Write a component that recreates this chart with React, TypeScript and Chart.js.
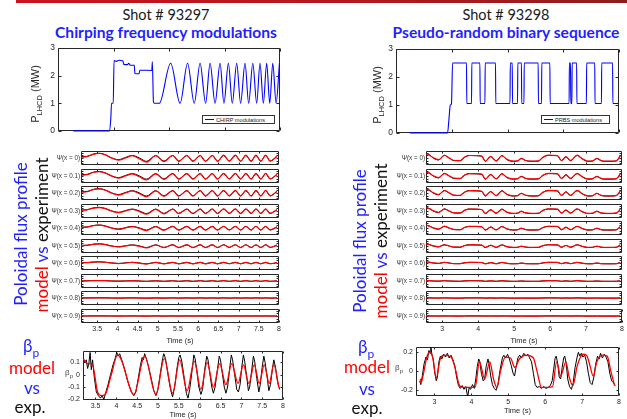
import React, { useEffect, useRef } from "react";
import { Chart, registerables } from "chart.js";

Chart.register(...registerables);

type Pt = [number, number];

// ================= DATA =================
const powerTicks = [0, 1, 2, 3];
const powerTimeTicks = [0, 2, 4, 6, 8];

// LHCD power, shot 93297 (chirp) : [time s, MW]
const chirpPower: Pt[] = [
  [0.55, 0], [1.85, 0], [1.9, 0.4], [1.93, 1.0], [1.99, 1.0], [2.02, 2.55], [2.1, 2.52], [2.2, 2.56],
  [2.34, 2.53], [2.37, 2.41], [2.5, 2.4], [2.55, 2.45], [2.6, 2.38], [2.75, 2.38], [2.77, 2.08],
  [2.92, 2.07], [2.95, 2.2], [3.38, 2.19], [3.4, 2.5], [3.44, 1.05], [3.47, 1.0], [3.65, 1.0],
  [4.06, 2.45], [4.4, 1.0], [4.67, 2.45], [4.91, 1.0], [5.12, 2.45], [5.32, 1.0], [5.48, 2.45],
  [5.66, 1.0], [5.84, 2.45], [5.98, 1.0], [6.14, 2.45], [6.28, 1.0], [6.44, 2.45], [6.58, 1.0],
  [6.74, 2.45], [6.87, 1.0], [7.02, 2.45], [7.16, 1.0], [7.28, 2.45], [7.4, 1.0], [7.52, 2.45],
  [7.63, 1.0], [7.74, 2.45], [7.86, 1.0], [7.98, 2.45],
];

// LHCD power, shot 93298 (PRBS) : [time s, MW]
const prbsPower: Pt[] = [
  [0.5, 0], [1.85, 0], [1.9, 0.5], [1.95, 1.0], [1.99, 1.05], [2.03, 2.5], [2.53, 2.5], [2.54, 1.05],
  [2.71, 1.05], [2.72, 2.5], [3.01, 2.5], [3.02, 1.05], [3.19, 1.05], [3.2, 2.5], [3.57, 2.5],
  [3.58, 1.05], [4.09, 1.05], [4.1, 2.5], [4.17, 2.5], [4.18, 1.05], [4.36, 1.05], [4.37, 2.5],
  [4.5, 2.5], [4.51, 1.05], [4.59, 1.05], [4.6, 2.5], [5.1, 2.5], [5.11, 1.05], [5.22, 1.05],
  [5.23, 2.5], [5.52, 2.5], [5.53, 1.05], [6.21, 1.05], [6.22, 2.5], [6.26, 2.5], [6.27, 1.05],
  [6.31, 1.05], [6.32, 2.5], [6.48, 2.5], [6.49, 1.05], [6.83, 1.05], [6.84, 2.5], [7.13, 2.5],
  [7.14, 1.05], [7.37, 1.05], [7.38, 2.5], [7.77, 2.5], [7.78, 1.05], [8.0, 1.05],
];

const fluxNames = [
  "Ψ(x = 0)", "Ψ(x = 0.1)", "Ψ(x = 0.2)", "Ψ(x = 0.3)", "Ψ(x = 0.4)",
  "Ψ(x = 0.5)", "Ψ(x = 0.6)", "Ψ(x = 0.7)", "Ψ(x = 0.8)", "Ψ(x = 0.9)",
];
const fluxTicksL = [3.5, 4, 4.5, 5, 5.5, 6, 6.5, 7, 7.5, 8];
const fluxTicksR = [3, 4, 5, 6, 7, 8];
// y half-range of each flux panel (normalised flux)
const fluxSpanL = [1.0, 1.05, 1.1, 1.3, 1.6, 2.2, 4, 10, 25, 60];
const fluxSpanR = [1.0, 1.05, 1.1, 1.3, 1.6, 2.2, 4, 10, 25, 60];

// normalised poloidal flux, shot 93297
const fluxExpL: Pt[] = [
  [3.1, 0.25], [3.25, 0.3], [3.4, 0.7], [3.55, 0.85], [3.7, 0.6], [3.85, 0.05], [4.03, -0.3],
  [4.2, 0.1], [4.37, 0.45], [4.55, 0.0], [4.72, -0.6], [4.95, 0.45], [5.15, -0.55], [5.37, 0.45],
  [5.52, -0.55], [5.72, 0.45], [5.87, -0.55], [6.05, 0.45], [6.18, -0.55], [6.35, 0.45],
  [6.48, -0.55], [6.63, 0.45], [6.77, -0.55], [6.92, 0.45], [7.05, -0.55], [7.18, 0.45],
  [7.31, -0.55], [7.43, 0.45], [7.55, -0.55], [7.67, 0.45], [7.78, -0.55], [7.95, 0.25],
];
const fluxModelL: Pt[] = [
  [3.1, 0.15], [3.25, 0.25], [3.4, 0.65], [3.55, 0.8], [3.7, 0.55], [3.85, 0.0], [4.03, -0.4],
  [4.2, 0.0], [4.37, 0.4], [4.55, -0.15], [4.72, -0.75], [4.95, 0.4], [5.15, -0.65], [5.37, 0.45],
  [5.52, -0.6], [5.72, 0.45], [5.87, -0.6], [6.05, 0.45], [6.18, -0.6], [6.35, 0.45],
  [6.48, -0.6], [6.63, 0.5], [6.77, -0.55], [6.92, 0.5], [7.05, -0.6], [7.18, 0.5],
  [7.31, -0.6], [7.43, 0.5], [7.55, -0.6], [7.67, 0.5], [7.78, -0.55], [7.95, 0.35],
];

// normalised poloidal flux, shot 93298
const fluxExpR: Pt[] = [
  [2.55, 0.85], [2.65, 0.55], [2.75, 0.0], [2.9, -0.35], [3.06, 0.5], [3.2, -0.05], [3.32, -0.45],
  [3.5, -0.5], [3.62, 0.15], [3.75, 0.45], [3.95, 0.4], [4.1, 0.3], [4.2, -0.6], [4.35, 0.3],
  [4.5, -0.55], [4.66, 0.45], [4.8, -0.3], [4.98, -0.6], [5.1, -0.5], [5.2, -0.05], [5.32, -0.45],
  [5.5, -0.6], [5.68, -0.55], [5.8, 0.1], [5.95, 0.45], [6.2, 0.4], [6.32, -0.5], [6.44, 0.25],
  [6.57, -0.5], [6.75, 0.45], [6.9, -0.2], [7.05, -0.6], [7.18, -0.55], [7.3, -0.05],
  [7.42, -0.5], [7.55, -0.6], [7.72, -0.6], [7.85, -0.5], [7.95, 0.3],
];
const fluxModelR: Pt[] = [
  [2.55, 0.8], [2.65, 0.5], [2.75, 0.05], [2.9, -0.3], [3.06, 0.45], [3.2, 0.0], [3.32, -0.4],
  [3.5, -0.45], [3.62, 0.15], [3.75, 0.45], [3.95, 0.45], [4.1, 0.35], [4.2, -0.55], [4.35, 0.25],
  [4.5, -0.5], [4.66, 0.4], [4.8, -0.25], [4.98, -0.55], [5.1, -0.5], [5.2, -0.1], [5.32, -0.45],
  [5.5, -0.55], [5.68, -0.5], [5.8, 0.15], [5.95, 0.5], [6.2, 0.45], [6.32, -0.45], [6.44, 0.2],
  [6.57, -0.45], [6.75, 0.5], [6.9, -0.15], [7.05, -0.55], [7.18, -0.5], [7.3, -0.1],
  [7.42, -0.45], [7.55, -0.55], [7.72, -0.55], [7.85, -0.45], [7.95, 0.45],
];

// beta_p, shot 93297
const betaTicksL = [-0.2, -0.1, 0, 0.1];
const betaTimeTicksL = [3.5, 4, 4.5, 5, 5.5, 6, 6.5, 7, 7.5, 8];
const betaExpL: Pt[] = [
  [3.2, 0.14], [3.24, 0.1], [3.28, 0.12], [3.31, 0.05], [3.34, 0.09], [3.37, 0.18], [3.4, 0.04],
  [3.43, 0.12], [3.47, -0.02], [3.52, -0.14], [3.57, -0.17], [3.62, -0.19], [3.66, -0.17],
  [3.7, -0.2], [3.75, -0.14], [3.8, -0.08], [3.86, 0.0], [3.92, 0.08], [3.97, 0.13], [4.01, 0.18],
  [4.04, 0.15], [4.08, 0.17], [4.13, 0.12], [4.2, 0.04], [4.28, -0.06], [4.36, -0.14],
  [4.42, -0.17], [4.47, -0.14], [4.52, -0.04], [4.58, 0.08], [4.62, 0.14], [4.65, 0.12],
  [4.68, 0.17], [4.72, 0.13], [4.76, 0.08], [4.83, -0.02], [4.9, -0.13], [4.95, -0.17],
  [5.0, -0.12], [5.06, 0.02], [5.11, 0.13], [5.14, 0.17], [5.18, 0.13], [5.24, 0.0], [5.3, -0.12],
  [5.35, -0.18], [5.4, -0.1], [5.46, 0.06], [5.5, 0.14], [5.53, 0.16], [5.57, 0.11], [5.63, -0.03],
  [5.68, -0.15], [5.72, -0.19], [5.76, -0.12], [5.82, 0.04], [5.86, 0.16], [5.89, 0.13],
  [5.93, 0.04], [5.98, -0.1], [6.03, -0.16], [6.07, -0.12], [6.12, 0.04], [6.17, 0.15],
  [6.2, 0.12], [6.24, 0.02], [6.29, -0.1], [6.33, -0.15], [6.37, -0.1], [6.43, 0.05],
  [6.47, 0.15], [6.5, 0.12], [6.54, 0.02], [6.59, -0.1], [6.63, -0.15], [6.67, -0.1],
  [6.72, 0.05], [6.76, 0.16], [6.79, 0.12], [6.84, 0.0], [6.89, -0.12], [6.93, -0.14],
  [6.97, -0.08], [7.01, 0.06], [7.05, 0.16], [7.08, 0.11], [7.13, -0.02], [7.17, -0.13],
  [7.2, -0.1], [7.25, 0.04], [7.29, 0.15], [7.32, 0.11], [7.37, -0.03], [7.42, -0.14],
  [7.45, -0.09], [7.5, 0.06], [7.54, 0.15], [7.57, 0.1], [7.62, -0.02], [7.66, -0.13],
  [7.7, -0.08], [7.75, 0.06], [7.78, 0.12], [7.82, 0.06], [7.87, -0.06], [7.92, -0.12],
];
const betaModelL: Pt[] = [
  [3.2, 0.13], [3.3, 0.09], [3.42, 0.09], [3.55, -0.14], [3.65, -0.17], [3.75, -0.15], [3.88, 0.0],
  [4.03, 0.16], [4.12, 0.12], [4.42, -0.16], [4.68, 0.15], [4.95, -0.16], [5.15, 0.13],
  [5.35, -0.15], [5.52, 0.12], [5.7, -0.13], [5.87, 0.11], [6.03, -0.12], [6.18, 0.1],
  [6.33, -0.1], [6.48, 0.09], [6.63, -0.08], [6.77, 0.09], [6.92, -0.07], [7.05, 0.08],
  [7.18, -0.07], [7.31, 0.08], [7.43, -0.07], [7.55, 0.08], [7.67, -0.07], [7.78, 0.08], [7.9, -0.1],
];

// beta_p, shot 93298
const betaTicksR = [-0.2, 0, 0.2];
const betaTimeTicksR = [3, 4, 5, 6, 7, 8];
const betaExpR: Pt[] = [
  [2.6, -0.1], [2.63, -0.14], [2.67, -0.05], [2.72, 0.08], [2.77, 0.15], [2.81, 0.12], [2.85, 0.22],
  [2.88, 0.19], [2.9, 0.27], [2.93, 0.18], [2.97, 0.12], [3.01, -0.02], [3.05, -0.1], [3.08, -0.06],
  [3.12, 0.1], [3.16, 0.16], [3.2, 0.13], [3.25, 0.18], [3.3, 0.15], [3.35, 0.19], [3.4, 0.14],
  [3.45, 0.17], [3.5, 0.12], [3.55, 0.06], [3.6, -0.06], [3.65, -0.15], [3.7, -0.18], [3.75, -0.15],
  [3.8, -0.19], [3.85, -0.16], [3.9, -0.27], [3.94, -0.17], [3.98, -0.19], [4.03, -0.14],
  [4.08, -0.18], [4.12, -0.08], [4.16, 0.05], [4.2, 0.13], [4.23, 0.1], [4.27, -0.02],
  [4.32, -0.1], [4.36, -0.08], [4.4, 0.05], [4.45, 0.13], [4.48, 0.08], [4.52, -0.04],
  [4.57, -0.14], [4.62, -0.18], [4.67, -0.2], [4.72, -0.14], [4.78, 0.02], [4.84, 0.14],
  [4.88, 0.17], [4.93, 0.14], [4.98, 0.18], [5.03, 0.13], [5.08, 0.06], [5.13, -0.02],
  [5.17, -0.05], [5.21, 0.04], [5.26, 0.14], [5.31, 0.17], [5.36, 0.14], [5.42, 0.19],
  [5.48, 0.16], [5.53, 0.18], [5.58, 0.14], [5.63, 0.1], [5.68, -0.02], [5.73, -0.14],
  [5.78, -0.17], [5.84, -0.16], [5.9, -0.18], [5.96, -0.16], [6.02, -0.18], [6.08, -0.17],
  [6.14, -0.15], [6.19, -0.1], [6.23, 0.02], [6.27, 0.14], [6.3, 0.16], [6.34, 0.08],
  [6.38, -0.06], [6.42, -0.08], [6.46, 0.04], [6.5, 0.14], [6.53, 0.16], [6.57, 0.08],
  [6.61, -0.08], [6.66, -0.16], [6.71, -0.19], [6.76, -0.12], [6.81, 0.04], [6.86, 0.14],
  [6.9, 0.2], [6.94, 0.16], [6.98, 0.19], [7.02, 0.15], [7.07, 0.17], [7.12, 0.1], [7.17, -0.02],
  [7.22, -0.12], [7.27, -0.14], [7.32, -0.06], [7.37, 0.08], [7.42, 0.16], [7.46, 0.13],
  [7.5, 0.19], [7.55, 0.14], [7.6, 0.18], [7.65, 0.15], [7.7, 0.1], [7.75, -0.02], [7.8, -0.1],
  [7.85, -0.12], [7.9, -0.15],
];
const betaModelR: Pt[] = [
  [2.62, -0.08], [2.64, -0.12], [2.7, -0.03], [2.8, 0.16], [2.88, 0.2], [2.95, 0.15], [3.05, -0.07],
  [3.15, 0.12], [3.25, 0.17], [3.45, 0.15], [3.55, 0.05], [3.68, -0.15], [3.8, -0.17], [4.1, -0.17],
  [4.22, 0.1], [4.36, -0.08], [4.5, 0.1], [4.6, -0.08], [4.69, -0.17], [4.8, 0.02], [4.92, 0.15],
  [5.06, 0.14], [5.18, 0.04], [5.3, 0.13], [5.5, 0.17], [5.68, 0.14], [5.78, 0.0], [5.9, -0.17],
  [6.2, -0.16], [6.31, 0.1], [6.42, -0.05], [6.56, 0.1], [6.65, -0.06], [6.75, -0.15], [6.87, 0.06],
  [7.02, 0.18], [7.12, 0.17], [7.2, 0.08], [7.3, -0.05], [7.4, 0.1], [7.55, 0.17], [7.68, 0.16],
  [7.78, 0.0], [7.88, -0.15],
];

// ================= STYLE / HELPERS =================
const FONT = "'Liberation Sans', Arial, Helvetica, sans-serif";
const TFONT = "Lato, 'Open Sans', sans-serif";
const AXC = "#262626";
const BLUE = "#1f1fff";
const RED = "#ff0000";

const framePlugin = {
  id: "frame",
  beforeDatasetsDraw(chart: any, _a: any, opts: any) {
    const { ctx, chartArea: a, scales } = chart;
    const L = Math.round(a.left) + 0.5;
    const R = Math.round(a.right) - 0.5;
    const T = Math.round(a.top) + 0.5;
    const B = Math.round(a.bottom) - 0.5;
    const tl = opts.tickLen ?? 3;
    const ytl = opts.yTickLen ?? tl;
    ctx.save();
    ctx.strokeStyle = AXC;
    ctx.lineWidth = 1;
    ctx.beginPath();
    ctx.rect(L, T, R - L, B - T);
    ctx.stroke();
    ctx.beginPath();
    (opts.xTicks || []).forEach((v: number) => {
      const x = Math.round(scales.x.getPixelForValue(v)) + 0.5;
      ctx.moveTo(x, B);
      ctx.lineTo(x, B - tl);
      ctx.moveTo(x, T);
      ctx.lineTo(x, T + tl);
    });
    (opts.yTicks || []).forEach((v: number) => {
      const y = Math.round(scales.y.getPixelForValue(v)) + 0.5;
      ctx.moveTo(L, y);
      ctx.lineTo(L + ytl, y);
      ctx.moveTo(R, y);
      ctx.lineTo(R - ytl, y);
    });
    ctx.stroke();
    ctx.restore();
  },
};

function series(points: Pt[], color: string, width: number, smooth: boolean, clip?: number) {
  return {
    data: points.map(([x, y]) => ({ x, y })),
    borderColor: color,
    borderWidth: width,
    pointRadius: 0,
    fill: false,
    tension: 0,
    cubicInterpolationMode: smooth ? "monotone" : "default",
    borderJoinStyle: "round",
    ...(clip !== undefined ? { clip } : {}),
  };
}

interface AxisSpec {
  min: number;
  max: number;
  ticks?: number[];
  show?: boolean;
  size?: number;
  title?: string;
  fontSize?: number;
}

function axis(a: AxisSpec, horizontal: boolean) {
  return {
    type: "linear",
    position: horizontal ? "bottom" : "left",
    min: a.min,
    max: a.max,
    display: !!a.show,
    grid: { display: false, drawTicks: false },
    border: { display: false },
    afterBuildTicks: (s: any) => {
      if (a.ticks) s.ticks = a.ticks.map((v) => ({ value: v }));
    },
    afterFit: (s: any) => {
      if (a.show && a.size !== undefined) {
        if (horizontal) s.height = a.size;
        else s.width = a.size;
      }
    },
    ticks: {
      font: { size: a.fontSize ?? 7, family: FONT },
      color: AXC,
      padding: horizontal ? 2 : 3,
      maxRotation: 0,
      minRotation: 0,
      autoSkip: false,
      callback: (v: any) => String(v),
    },
    title: a.title
      ? { display: true, text: a.title, font: { size: 7.5, family: FONT }, color: AXC, padding: 0 }
      : { display: false },
  };
}

function makeConfig(o: {
  datasets: any[];
  x: AxisSpec;
  y: AxisSpec;
  pad: { left: number; right: number; top: number; bottom: number };
  frameX: number[];
  frameY: number[];
  tickLen?: number;
  yTickLen?: number;
}) {
  return {
    type: "line",
    data: { datasets: o.datasets },
    plugins: [framePlugin],
    options: {
      animation: false,
      responsive: false,
      devicePixelRatio: 1,
      events: [],
      layout: { padding: o.pad },
      plugins: {
        legend: { display: false },
        tooltip: { enabled: false },
        frame: { xTicks: o.frameX, yTicks: o.frameY, tickLen: o.tickLen ?? 3, yTickLen: o.yTickLen },
      },
      scales: { x: axis(o.x, true), y: axis(o.y, false) },
    },
  };
}

function Plot({ left, top, width, height, make }: { left: number; top: number; width: number; height: number; make: () => any }) {
  const ref = useRef<HTMLCanvasElement | null>(null);
  useEffect(() => {
    const chart = new Chart(ref.current as HTMLCanvasElement, make() as any);
    return () => chart.destroy();
  }, []);
  return (
    <canvas
      ref={ref}
      width={width}
      height={height}
      style={{ position: "absolute", left, top, width, height, display: "block" }}
    />
  );
}

function Txt({ x, y, children, style, rotate, anchor }: { x: number; y: number; children: any; style?: any; rotate?: boolean; anchor?: string }) {
  const tx = anchor === "right" ? "-100%" : anchor === "left" ? "0" : "-50%";
  return (
    <div
      style={{
        position: "absolute",
        left: x,
        top: y,
        transform: `translate(${tx}, -50%)${rotate ? " rotate(-90deg)" : ""}`,
        whiteSpace: "nowrap",
        lineHeight: 1,
        ...style,
      }}
    >
      {children}
    </div>
  );
}

// ================= PANELS =================
function PowerPlot({ L, T, R, B, data, label }: { L: number; T: number; R: number; B: number; data: Pt[]; label: string }) {
  const yw = 28;
  const pad = 6;
  const left = L - yw;
  const top = T - pad;
  const width = R - left + pad;
  const height = B - top + pad;
  return (
    <>
      <Plot
        left={left}
        top={top}
        width={width}
        height={height}
        make={() =>
          makeConfig({
            datasets: [series(data, "#0000ff", 1.1, true, 2)],
            x: { min: 0, max: 8 },
            y: { min: 0, max: 3, ticks: powerTicks, show: true, size: yw, fontSize: 8.5 },
            pad: { left: 0, right: pad, top: pad, bottom: pad },
            frameX: powerTimeTicks,
            frameY: powerTicks,
          })
        }
      />
      <div
        style={{
          position: "absolute",
          left: R - 78,
          top: 115,
          width: label.length > 16 ? 73 : 69,
          height: 9,
          border: "1px solid #333",
          background: "#fff",
          boxSizing: "border-box",
          display: "flex",
          alignItems: "center",
          fontFamily: FONT,
          fontSize: 5.6,
          color: "#222",
        }}
      >
        <span style={{ display: "inline-block", width: 9, height: 1, background: "#0000ff", margin: "0 2px 0 2px" }} />
        {label}
      </div>
    </>
  );
}

function FluxColumn({ L, R, xmin, ticks, exp, model, spans }: { L: number; R: number; xmin: number; ticks: number[]; exp: Pt[]; model: Pt[]; spans: number[] }) {
  const h = 14;
  const axisH = 22;
  return (
    <>
      {fluxNames.map((name, i) => {
        const top = 151 + Math.round(i * 17.56);
        const last = i === fluxNames.length - 1;
        const s = spans[i];
        return (
          <React.Fragment key={name}>
            <Plot
              left={L}
              top={top}
              width={R - L + (last ? 6 : 0)}
              height={h + (last ? axisH : 0)}
              make={() =>
                makeConfig({
                  datasets: [series(model, RED, 1.2, true), series(exp, "#000000", 1, true)],
                  x: { min: xmin, max: 8, ticks, show: last, size: axisH, title: "Time (s)", fontSize: 7 },
                  y: { min: -s * 1.25, max: s * 1.25 },
                  pad: { left: 0, right: last ? 6 : 0, top: 0, bottom: 0 },
                  frameX: ticks,
                  frameY: [-0.9 * s, -0.45 * s, 0, 0.45 * s, 0.9 * s],
                  tickLen: 2,
                  yTickLen: 2,
                })
              }
            />
            <Txt x={L - 1} y={top + 7} anchor="right" style={{ fontFamily: FONT, fontSize: 6.3, color: "#333" }}>
              {name}
            </Txt>
          </React.Fragment>
        );
      })}
    </>
  );
}

function BetaPlot({ L, T, R, B, xmin, ymin, ymax, yTicks, xTicks, exp, model }: { L: number; T: number; R: number; B: number; xmin: number; ymin: number; ymax: number; yTicks: number[]; xTicks: number[]; exp: Pt[]; model: Pt[] }) {
  const yw = 26;
  const xh = 19;
  const pad = 6;
  const left = L - yw;
  const top = T - pad;
  return (
    <Plot
      left={left}
      top={top}
      width={R - left + pad}
      height={B - top + xh}
      make={() =>
        makeConfig({
          datasets: [series(model, RED, 1.3, true), series(exp, "#000000", 1, false)],
          x: { min: xmin, max: 8, ticks: xTicks, show: true, size: xh, title: "Time (s)", fontSize: 7 },
          y: { min: ymin, max: ymax, ticks: yTicks, show: true, size: yw, fontSize: 7 },
          pad: { left: 0, right: pad, top: pad, bottom: 0 },
          frameX: xTicks,
          frameY: yTicks,
          tickLen: 2,
        })
      }
    />
  );
}

export default function App() {
  Chart.defaults.font.family = FONT;
  const side = { fontFamily: TFONT, fontSize: 17 };
  const plabel = { fontFamily: FONT, fontSize: 11, color: AXC };
  return (
    <div
      style={{
        position: "absolute",
        left: 0,
        top: 0,
        width: 627,
        height: 419,
        background: "#fff",
        overflow: "hidden",
      }}
    >
      <div
        style={{
          position: "absolute",
          left: 16,
          top: 0,
          width: 611,
          height: 3,
          background: "linear-gradient(to right, #c8141e, #b01820 60%, #8e1c1c)",
        }}
      />

      {/* ---------- LEFT : shot 93297 ---------- */}
      <Txt x={166} y={15} style={{ fontFamily: TFONT, fontSize: 14.5, color: "#1a1a1a" }}>Shot # 93297</Txt>
      <Txt x={166} y={33} style={{ fontFamily: TFONT, fontSize: 15.6, fontWeight: 700, color: BLUE }}>Chirping frequency modulations</Txt>
      <PowerPlot L={58} T={46} R={280} B={133} data={chirpPower} label="CHIRP modulations" />
      <Txt x={37} y={94} rotate style={plabel}>
        P<sub style={{ fontSize: 7.5 }}>LHCD</sub> (MW)
      </Txt>

      <FluxColumn L={81} R={279} xmin={3.1} ticks={fluxTicksL} exp={fluxExpL} model={fluxModelL} spans={fluxSpanL} />
      <Txt x={20} y={234} rotate style={{ ...side, color: BLUE }}>Poloidal flux profile</Txt>
      <Txt x={41} y={235} rotate style={side}>
        <span style={{ color: RED }}>model</span> <span style={{ color: BLUE }}>vs</span> <span style={{ color: "#111" }}>experiment</span>
      </Txt>

      <BetaPlot L={83} T={350} R={283} B={400} xmin={3.2} ymin={-0.205} ymax={0.19} yTicks={betaTicksL} xTicks={betaTimeTicksL} exp={betaExpL} model={betaModelL} />
      <Txt x={69} y={374} style={{ fontFamily: FONT, fontSize: 8, color: "#444" }}>
        β<sub style={{ fontSize: 6 }}>p</sub>
      </Txt>
      <Txt x={31} y={348} style={{ ...side, color: BLUE }}>β<sub style={{ fontSize: 12 }}>p</sub></Txt>
      <Txt x={32} y={367} style={{ ...side, color: RED }}>model</Txt>
      <Txt x={32} y={387} style={{ ...side, color: BLUE }}>vs</Txt>
      <Txt x={30} y={406} style={{ ...side, color: "#111" }}>exp.</Txt>

      {/* ---------- RIGHT : shot 93298 ---------- */}
      <Txt x={506} y={15} style={{ fontFamily: TFONT, fontSize: 14.5, color: "#1a1a1a" }}>Shot # 93298</Txt>
      <Txt x={506} y={33} style={{ fontFamily: TFONT, fontSize: 15.6, fontWeight: 700, color: BLUE }}>Pseudo-random binary sequence</Txt>
      <PowerPlot L={396} T={47} R={619} B={135} data={prbsPower} label="PRBS modulations" />
      <Txt x={379} y={95} rotate style={plabel}>
        P<sub style={{ fontSize: 7.5 }}>LHCD</sub> (MW)
      </Txt>

      <FluxColumn L={426} R={622} xmin={2.55} ticks={fluxTicksR} exp={fluxExpR} model={fluxModelR} spans={fluxSpanR} />
      <Txt x={359} y={241} rotate style={{ ...side, color: BLUE }}>Poloidal flux profile</Txt>
      <Txt x={380} y={241} rotate style={side}>
        <span style={{ color: RED }}>model</span> <span style={{ color: BLUE }}>vs</span> <span style={{ color: "#111" }}>experiment</span>
      </Txt>

      <BetaPlot L={416} T={346} R={619} B={396} xmin={2.5} ymin={-0.26} ymax={0.254} yTicks={betaTicksR} xTicks={betaTimeTicksR} exp={betaExpR} model={betaModelR} />
      <Txt x={399} y={369} style={{ fontFamily: FONT, fontSize: 8, color: "#444" }}>
        β<sub style={{ fontSize: 6 }}>p</sub>
      </Txt>
      <Txt x={366} y={349} style={{ ...side, color: BLUE }}>β<sub style={{ fontSize: 12 }}>p</sub></Txt>
      <Txt x={367} y={366} style={{ ...side, color: RED }}>model</Txt>
      <Txt x={367} y={388} style={{ ...side, color: BLUE }}>vs</Txt>
      <Txt x={367} y={407} style={{ ...side, color: "#111" }}>exp.</Txt>
    </div>
  );
}
